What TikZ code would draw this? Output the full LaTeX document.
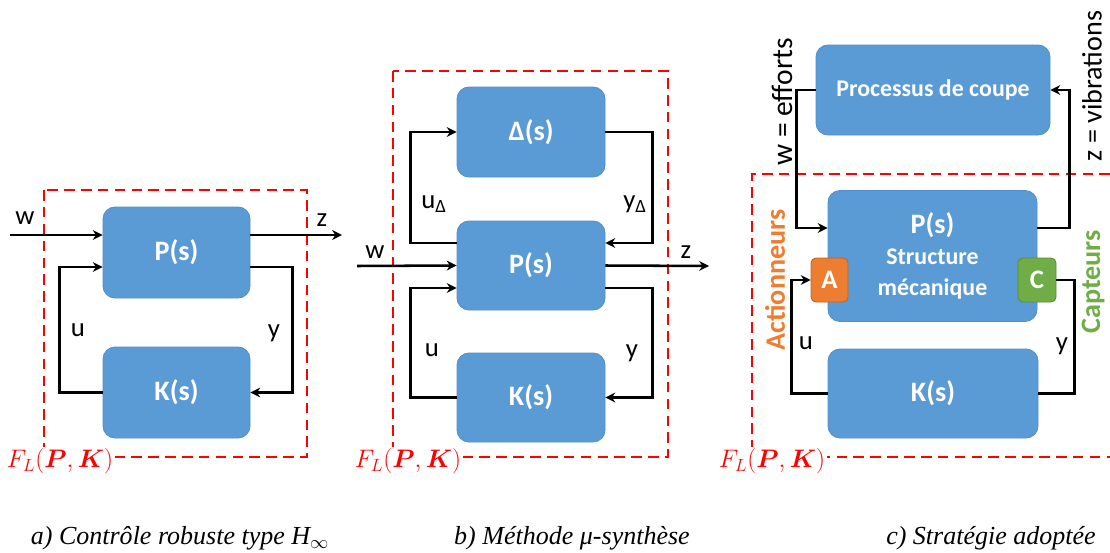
\documentclass[tikz,border=0pt]{standalone}
\usepackage{fix-cm}
\usepackage{amsmath}
\usepackage{fontspec}
\setmainfont{Liberation Serif}
\newfontfamily\calib{Carlito}
\usetikzlibrary{arrows.meta}

\newcommand\pxu{0.025cm}
\definecolor{boxblue}{HTML}{5B9BD5}
\definecolor{boxedge}{HTML}{4F8FCB}
\definecolor{actorange}{HTML}{ED7D31}
\definecolor{capgreen}{HTML}{70AD47}

\tikzset{
  bloc/.style={draw=boxedge, line width=0.6pt, fill=boxblue, rounded corners=0.3cm,
    text=white, align=center, inner sep=0pt,
    font=\calib\bfseries\fontsize{20}{22}\selectfont},
  port/.style={bloc, rounded corners=0.12cm, font=\calib\bfseries\fontsize{19}{21}\selectfont},
  fleche/.style={line width=1.8pt, -{Stealth[length=7pt,width=7pt]}},
  lien/.style={line width=1.8pt},
  cadre/.style={draw=red, line width=2pt, dash pattern=on 7.5pt off 4.5pt},
  sig/.style={font=\calib\fontsize{19}{21}\selectfont},
  flk/.style={fill=white, inner sep=1pt, text=red, font=\fontsize{18}{22}\selectfont},
  legende/.style={font=\itshape\fontsize{18.5}{21}\selectfont}
}

\begin{document}
\begin{tikzpicture}[x=0.025cm,y=-0.025cm]
\useasboundingbox (0,0) rectangle (1110,552);

% a) H infini
\draw[cadre] (44,190) rectangle (307,457);
\node[bloc, minimum width=147*\pxu, minimum height=91*\pxu] (Pa) at (176.5,252.5) {P(s)};
\node[bloc, minimum width=147*\pxu, minimum height=91*\pxu] (Ka) at (176.5,392.5) {K(s)};
\coordinate (wa) at (10,235);
\coordinate (za) at (342,235);
\draw[fleche] (wa) -- ([yshift=17.5*\pxu]Pa.west);
\draw[fleche] ([yshift=17.5*\pxu]Pa.east) -- (za);
\draw[fleche] (Ka.west) -- ++(-43,0) |- ([yshift=-14.5*\pxu]Pa.west);
\draw[fleche] ([yshift=-14.5*\pxu]Pa.east) -- ++(42,0) |- (Ka.east);
\node[sig] (la-w) at (25,218) {w};
\node[sig] (la-z) at (322,220) {z};
\node[sig] (la-u) at (78,330) {u};
\node[sig] (la-y) at (274,333) {y};
\node[flk] (fl-a) at (60,461) {$F_L(\boldsymbol{P},\boldsymbol{K})$};

% b) mu-synthese
\draw[cadre] (393,71) rectangle (668,457);
\node[bloc, minimum width=148*\pxu, minimum height=90*\pxu] (Db) at (531,132) {Δ(s)};
\node[bloc, minimum width=148*\pxu, minimum height=89*\pxu] (Pb) at (531,265.5) {P(s)};
\node[bloc, minimum width=148*\pxu, minimum height=89*\pxu] (Kb) at (531,397.5) {K(s)};
\coordinate (wb) at (357,266);
\coordinate (zb) at (709,266);
\draw[fleche] (wb) -- (Pb.west);
\draw[fleche] (Pb.east) -- (zb);
\draw[fleche] ([yshift=22.5*\pxu]Pb.west) -- ++(-46,0) |- (Db.west);
\draw[fleche] (Db.east) -- ++(47,0) |- ([yshift=22.5*\pxu]Pb.east);
\draw[fleche] (Kb.west) -- ++(-46,0) |- ([yshift=-22.5*\pxu]Pb.west);
\draw[fleche] ([yshift=-22.5*\pxu]Pb.east) -- ++(47,0) |- (Kb.east);
\node[sig] (lb-w) at (375,252) {w};
\node[sig] (lb-z) at (686,252) {z};
\node[sig] (lb-ud) at (434,204) {u\textsubscript{Δ}};
\node[sig] (lb-yd) at (635,204) {y\textsubscript{Δ}};
\node[sig] (lb-u) at (432,350) {u};
\node[sig] (lb-y) at (632,353) {y};
\node[flk] (fl-b) at (408,461) {$F_L(\boldsymbol{P},\boldsymbol{K})$};

% c) strategie adoptee
\draw[cadre] (1110,174) -- (752,174) -- (752,457) -- (1110,457);
\node[bloc, minimum width=234*\pxu, minimum height=90*\pxu, font=\calib\bfseries\fontsize{17}{19}\selectfont] (Proc) at (933,90) {Processus de coupe};
\node[bloc, minimum width=209*\pxu, minimum height=131*\pxu] (Pc) at (932.5,256) {P(s)\\[0pt]{\fontsize{17}{22}\selectfont Structure}\\{\fontsize{17}{22}\selectfont mécanique}};
\node[port, fill=actorange, draw=actorange!80!black, minimum width=37*\pxu, minimum height=44*\pxu] (Ac) at (829.5,280) {A};
\node[port, fill=capgreen, draw=capgreen!80!black, minimum width=38*\pxu, minimum height=44*\pxu] (Cc) at (1037,280) {C};
\node[bloc, minimum width=210*\pxu, minimum height=89*\pxu] (Kc) at (933,393.5) {K(s)};
\draw[fleche] (Proc.west) -- ++(-19,0) |- ([yshift=28*\pxu]Pc.west);
\draw[fleche] ([yshift=28*\pxu]Pc.east) -- ++(32,0) |- (Proc.east);
\draw[fleche] (Kc.west) -- ++(-36,0) |- (Ac.west);
\draw[lien] (Cc.east) -- ++(18,0) |- (Kc.east);
\node[sig, rotate=90, font=\calib\fontsize{21}{23}\selectfont] (lc-w) at (782,102) {w = efforts};
\node[sig, rotate=90, font=\calib\fontsize{20}{22}\selectfont] (lc-z) at (1092,86) {z = vibrations};
\node[sig, rotate=90, text=actorange, font=\calib\bfseries\fontsize{20}{22}\selectfont] (lc-act) at (775,280) {Actionneurs};
\node[sig, rotate=90, text=capgreen, font=\calib\bfseries\fontsize{20}{22}\selectfont] (lc-cap) at (1093,282) {Capteurs};
\node[sig] (lc-u) at (806,343) {u};
\node[sig] (lc-y) at (1062,346) {y};
\node[flk] (fl-c) at (772,461) {$F_L(\boldsymbol{P},\boldsymbol{K})$};

% legendes
\node[legende] (leg-a) at (180,538) {a) Contrôle robuste type H$_\infty$};
\node[legende] (leg-b) at (572,538) {b) Méthode μ-synthèse};
\node[legende] (leg-c) at (991,538) {c) Stratégie adoptée};
\end{tikzpicture}
\end{document}
